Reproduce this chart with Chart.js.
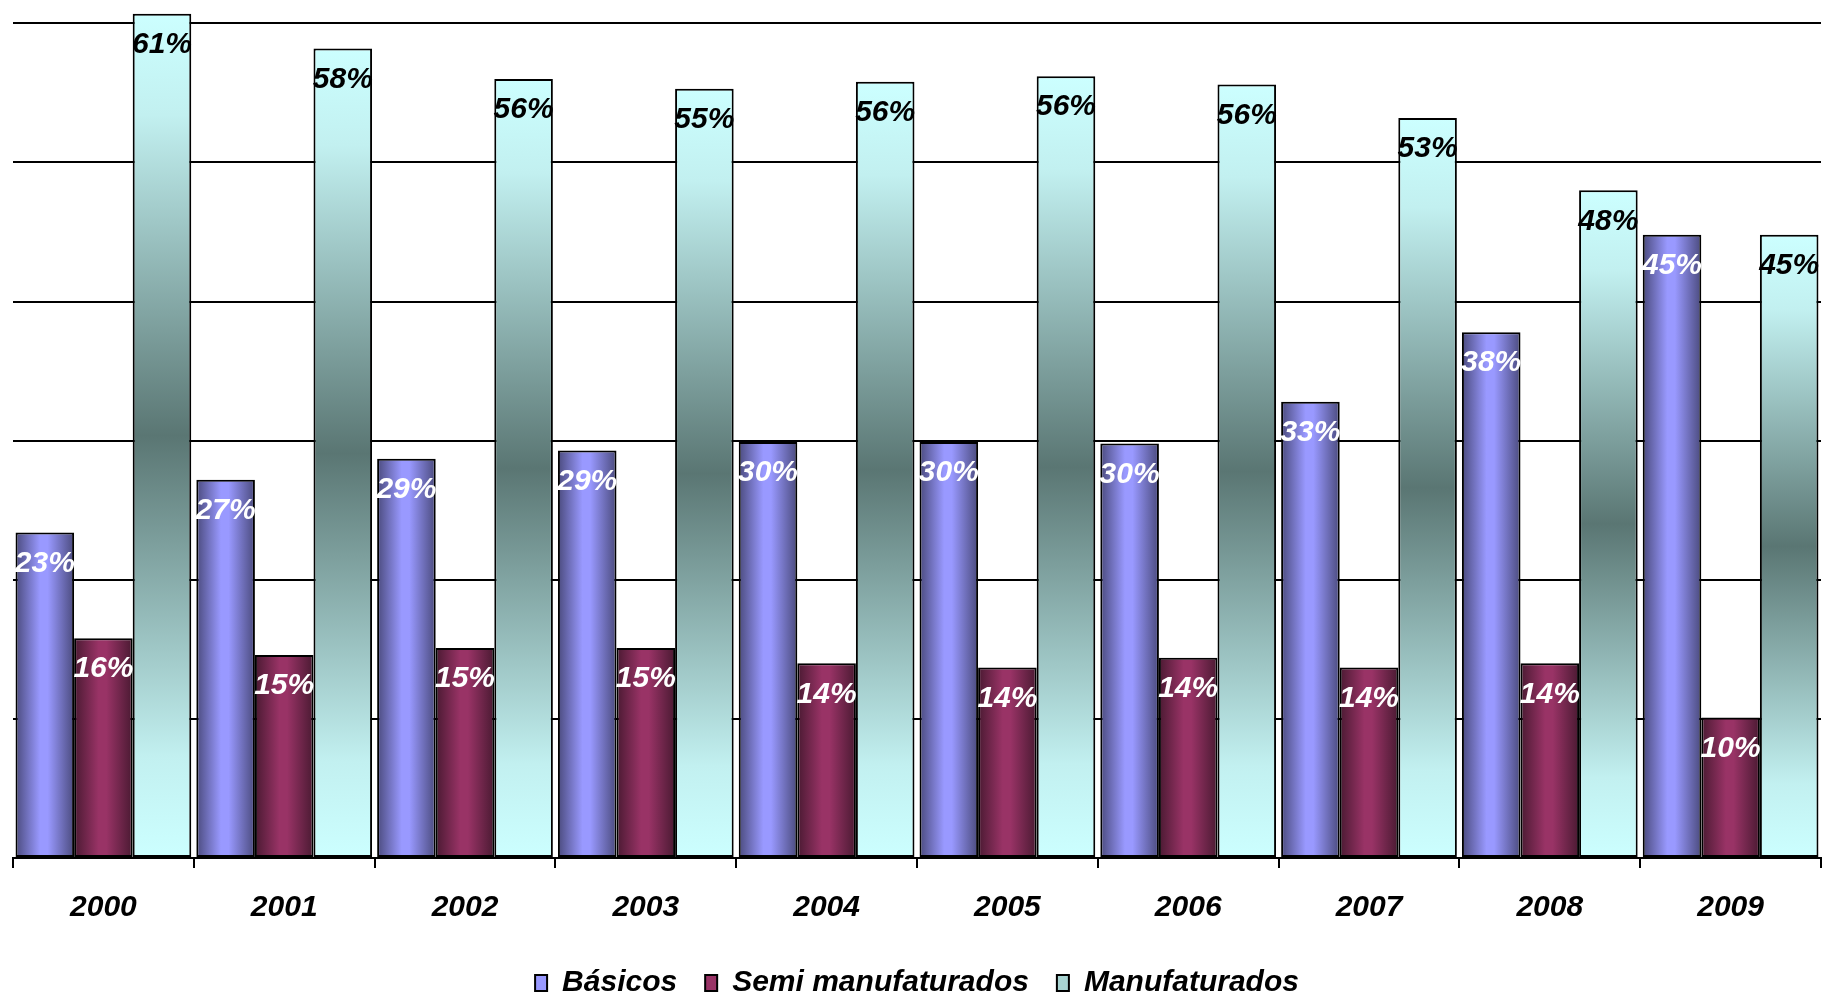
<!DOCTYPE html>
<html>
<head>
<meta charset="utf-8">
<script src="https://cdn.jsdelivr.net/npm/chart.js@4/dist/chart.umd.min.js"></script>
<style>
  html, body { margin: 0; padding: 0; background: #fff; }
  #wrap { width: 1825px; height: 995px; }
</style>
</head>
<body>
<div id="wrap"><canvas id="grafico"></canvas></div>
<script>
const anos = ["2000", "2001", "2002", "2003", "2004", "2005", "2006", "2007", "2008", "2009"];
const basicos = [23.4, 27.2, 28.7, 29.3, 29.9, 29.9, 29.8, 32.8, 37.8, 44.8];
const semiManufaturados = [15.8, 14.6, 15.1, 15.1, 14.0, 13.7, 14.4, 13.7, 14.0, 10.1];
const manufaturados = [60.7, 58.2, 56.0, 55.3, 55.8, 56.2, 55.6, 53.2, 48.0, 44.8];
const nomes = ["Básicos", "Semi manufaturados", "Manufaturados"];

const fonte = "'Liberation Sans', Arial, sans-serif";
const catPct = 0.972;

// posição de cada barra a partir das escalas do Chart.js
function caixa(c) {
  const chart = c.chart, xs = chart.scales.x, ys = chart.scales.y;
  if (!xs || !ys || !chart.chartArea || !(xs.width > 0) || !(ys.height > 0)) return null;
  const w = xs.width / anos.length * catPct / 3;
  const cx = xs.getPixelForValue(c.dataIndex) + (c.datasetIndex - 1) * w;
  const top = ys.getPixelForValue(c.raw), base = ys.getPixelForValue(0);
  if (![cx, top, base].every(isFinite)) return null;
  return { left: cx - w / 2, right: cx + w / 2, top, base };
}

function cilindro(escuro, claro) {
  return c => {
    const b = caixa(c);
    if (!b) return claro;
    const g = c.chart.ctx.createLinearGradient(b.left, 0, b.right, 0);
    g.addColorStop(0, escuro);
    g.addColorStop(0.42, claro);
    g.addColorStop(0.55, claro);
    g.addColorStop(1, escuro);
    return g;
  };
}

function vertical(c) {
  const b = caixa(c);
  if (!b) return "#a8d8d8";
  const g = c.chart.ctx.createLinearGradient(0, b.top, 0, b.base);
  g.addColorStop(0, "#ccffff");
  g.addColorStop(0.12, "#c2f0f0");
  g.addColorStop(0.5, "#5a7673");
  g.addColorStop(0.88, "#c2f0f0");
  g.addColorStop(1, "#ccffff");
  return g;
}

// rótulos de percentagem dentro das barras
const rotulos = {
  id: "rotulos",
  afterDatasetsDraw(chart) {
    const ctx = chart.ctx;
    const cores = ["#ffffff", "#ffffff", "#000000"];
    ctx.save();
    ctx.font = "italic bold 30px " + fonte;
    ctx.textAlign = "center";
    ctx.textBaseline = "middle";
    chart.data.datasets.forEach((ds, i) => {
      ctx.fillStyle = cores[i];
      chart.getDatasetMeta(i).data.forEach((el, j) => {
        ctx.fillText(Math.round(ds.data[j]) + "%", el.x, el.y + 31);
      });
    });
    ctx.restore();
  }
};

new Chart(document.getElementById("grafico"), {
  type: "bar",
  data: {
    labels: anos,
    datasets: [
      { label: nomes[0], data: basicos, backgroundColor: cilindro("#4b4b7e", "#9999ff") },
      { label: nomes[1], data: semiManufaturados, backgroundColor: cilindro("#4a1a32", "#993366") },
      { label: nomes[2], data: manufaturados, backgroundColor: vertical }
    ]
  },
  options: {
    responsive: true,
    maintainAspectRatio: false,
    animation: false,
    layout: { padding: { left: 13, right: 4, top: 0, bottom: -13 } },
    datasets: {
      bar: {
        categoryPercentage: catPct,
        barPercentage: 1,
        borderColor: "#000",
        borderWidth: 2,
        borderSkipped: false
      }
    },
    scales: {
      x: {
        grid: { drawOnChartArea: false, drawTicks: true, tickLength: 10, color: "#000", lineWidth: 2, offset: true },
        border: { display: true, color: "#000", width: 2 },
        ticks: { color: "#000", padding: 22, font: { family: fonte, size: 30, weight: "bold", style: "italic" } },
        afterFit(s) { s.height -= 8; }
      },
      y: {
        min: 0,
        max: 61.68,
        ticks: { display: false, stepSize: 10 },
        afterBuildTicks(s) { s.ticks = s.ticks.filter(t => t.value % 10 === 0); },
        grid: { color: "#000", lineWidth: 2, drawTicks: false },
        border: { display: false }
      }
    },
    plugins: {
      tooltip: { enabled: false },
      legend: {
        position: "bottom",
        labels: {
          color: "#000",
          padding: 28,
          boxWidth: 12,
          boxHeight: 16,
          font: { family: fonte, size: 30, weight: "bold", style: "italic" },
          generateLabels() {
            const cores = ["#9999ff", "#993366", "#a8d4d2"];
            return nomes.map((n, i) => ({
              text: n, fillStyle: cores[i], strokeStyle: "#000", lineWidth: 2,
              fontColor: "#000", datasetIndex: i
            }));
          }
        }
      }
    }
  },
  plugins: [rotulos]
});
</script>
</body>
</html>
